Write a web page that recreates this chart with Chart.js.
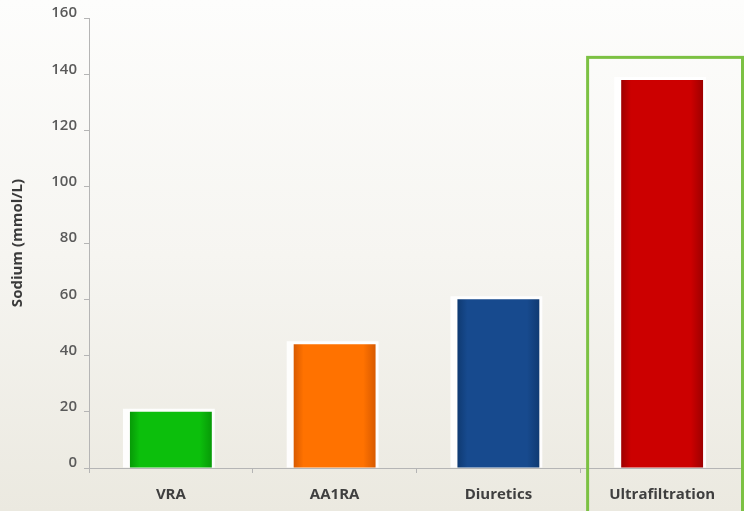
<!DOCTYPE html>
<html>
<head>
<meta charset="utf-8">
<title>Sodium</title>
<style>
  html, body { margin: 0; padding: 0; }
  body { width: 744px; height: 511px; overflow: hidden; }
  #wrap { position: relative; width: 744px; height: 511px; }
</style>
</head>
<body>
<div id="wrap"><canvas id="myChart" width="744" height="511"></canvas></div>
<script src="https://cdn.jsdelivr.net/npm/chart.js@4/dist/chart.umd.min.js"></script>
<script>
const categories = ["VRA", "AA1RA", "Diuretics", "Ultrafiltration"]
const sodium = [20, 44, 60, 138]
const barColors = ["#0cbf0c", "#ff7200", "#174a8e", "#cc0000"]
const barDark = ["#079a07", "#d85a00", "#0f3a72", "#9e0000"]
const yTicks = [0, 20, 40, 60, 80, 100, 120, 140, 160]
const highlightIndex = 3

// shaded bars, lighter in the middle like the original 3D look
function barFill(c) {
  const chart = c.chart
  const i = c.dataIndex
  if (!chart.chartArea || !chart.scales.x) return barColors[i]
  const xs = chart.scales.x
  const half = (xs.getPixelForValue(1) - xs.getPixelForValue(0)) * 0.25
  const cx = xs.getPixelForValue(i)
  const g = chart.ctx.createLinearGradient(cx - half, 0, cx + half, 0)
  g.addColorStop(0, barDark[i])
  g.addColorStop(0.12, barColors[i])
  g.addColorStop(0.85, barColors[i])
  g.addColorStop(1, barDark[i])
  return g
}

const bgPlugin = {
  id: "bg",
  beforeDraw(chart) {
    const ctx = chart.ctx
    const g = ctx.createLinearGradient(0, 0, 0, chart.height)
    g.addColorStop(0, "#fdfdfc")
    g.addColorStop(0.5, "#f6f5f1")
    g.addColorStop(1, "#ebe9e0")
    ctx.save()
    ctx.fillStyle = g
    ctx.fillRect(0, 0, chart.width, chart.height)
    ctx.restore()
  }
}

// white halo behind bars
const haloPlugin = {
  id: "halo",
  beforeDatasetsDraw(chart) {
    const ctx = chart.ctx
    const meta = chart.getDatasetMeta(0)
    ctx.save()
    ctx.fillStyle = "rgba(255,255,255,0.9)"
    meta.data.forEach(b => {
      const w = b.width
      ctx.fillRect(b.x - w / 2 - 7, b.y - 3, w + 10, b.base - b.y + 3)
    })
    ctx.restore()
  }
}

const boxPlugin = {
  id: "box",
  afterDraw(chart) {
    const xs = chart.scales.x, ys = chart.scales.y
    const step = xs.getPixelForValue(1) - xs.getPixelForValue(0)
    const left = xs.getPixelForValue(highlightIndex) - step * 0.455
    const top = ys.getPixelForValue(146)
    const ctx = chart.ctx
    ctx.save()
    ctx.strokeStyle = "#7cc143"
    ctx.lineWidth = 3
    ctx.strokeRect(left, top, chart.width - left - 1.5, chart.height - top + 5)
    ctx.restore()
  }
}

new Chart(document.getElementById("myChart"), {
  type: "bar",
  data: {
    labels: categories,
    datasets: [{
      data: sodium,
      backgroundColor: barFill,
      borderWidth: 0,
      categoryPercentage: 1,
      barPercentage: 0.5
    }]
  },
  options: {
    responsive: false,
    animation: false,
    devicePixelRatio: 1,
    layout: { padding: { top: 18, right: 0, left: 0, bottom: 0 } },
    plugins: { legend: { display: false }, tooltip: { enabled: false } },
    scales: {
      x: {
        grid: { display: true, drawOnChartArea: false, offset: true, tickLength: 5, color: "#b5b5b5" },
        border: { color: "#b5b5b5", width: 1 },
        ticks: { color: "#3f3f3f", font: { family: "Open Sans", size: 15, weight: "bold" }, padding: 13, maxRotation: 0 },
        afterFit(s) { s.height = 43 }
      },
      y: {
        min: 0, max: 160,
        afterBuildTicks(s) { s.ticks = yTicks.map(v => ({ value: v })) },
        grid: { display: true, drawOnChartArea: false, tickLength: 5, color: "#b5b5b5" },
        border: { color: "#b5b5b5", width: 1 },
        ticks: { color: "#5a5a5a", font: { family: "Open Sans", size: 15, weight: "600" }, padding: 7, labelOffset: -5 },
        title: { display: true, text: "Sodium (mmol/L)", color: "#3a3a3a", font: { family: "Open Sans", size: 15, weight: "bold" }, padding: { top: 9, bottom: 4 } },
        afterFit(s) { s.width = 89 }
      }
    }
  },
  plugins: [bgPlugin, haloPlugin, boxPlugin]
})
</script>
</body>
</html>
